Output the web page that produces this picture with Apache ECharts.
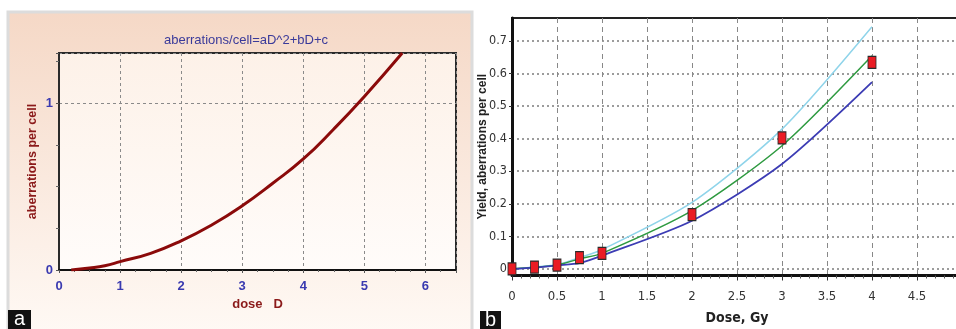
<!DOCTYPE html>
<html>
<head>
<meta charset="utf-8">
<script src="https://cdn.jsdelivr.net/npm/echarts@6/dist/echarts.min.js"></script>
<style>
html,body{margin:0;padding:0;background:#fff;}
#chart{width:956px;height:329px;}
</style>
</head>
<body>
<div id="chart"></div>
<script>
// ---- Panel a data ----
const aDose  = [0.2, 0.5, 0.75, 1, 1.5, 2, 2.5, 3, 3.5, 4, 4.5, 5, 5.62];
const aYield = [0, 0.012, 0.026, 0.05, 0.1, 0.175, 0.27, 0.385, 0.52, 0.665, 0.845, 1.04, 1.3];
const aTitle = 'aberrations/cell=aD^2+bD+c';

// ---- Panel b data ----
const bDose     = [0, 0.25, 0.5, 0.75, 1, 2, 3, 4];
const bUpper    = [0, 0.006, 0.013, 0.035, 0.059, 0.204, 0.429, 0.743];
const bFit      = [0, 0.005, 0.012, 0.031, 0.048, 0.179, 0.378, 0.654];
const bLower    = [0, 0.004, 0.011, 0.018, 0.041, 0.148, 0.322, 0.573];
const bObserved = [0, 0.006, 0.012, 0.035, 0.048, 0.167, 0.402, 0.634];
const bYTicks   = [0, 0.1, 0.2, 0.3, 0.4, 0.5, 0.6, 0.7];

const pairs = (xs, ys) => xs.map((x, i) => [x, ys[i]]);

const narrow = "'DejaVu Sans Condensed','Liberation Sans Narrow','Arial Narrow','Liberation Sans',sans-serif";
const chart = echarts.init(document.getElementById('chart'), null, {renderer: 'canvas'});

const option = {
  backgroundColor: '#ffffff',
  animation: false,
  graphic: [
    {type: 'rect', z: -10, shape: {x: 8, y: 12, width: 464, height: 330},
     style: {fill: new echarts.graphic.LinearGradient(0, 0, 0, 1, [
        {offset: 0, color: '#f5d8c6'}, {offset: 1, color: '#fffaf6'}]),
        stroke: '#dcdcdc', lineWidth: 3}},
    {type: 'rect', z: 100, shape: {x: 8, y: 310, width: 23, height: 19}, style: {fill: '#111'}},
    {type: 'text', z: 101, x: 19.5, y: 319, style: {text: 'a', fill: '#fff', font: '20px Arial, sans-serif', align: 'center', verticalAlign: 'middle'}},
    {type: 'rect', z: 100, shape: {x: 480, y: 311, width: 21, height: 18}, style: {fill: '#111'}},
    {type: 'text', z: 101, x: 490.5, y: 320, style: {text: 'b', fill: '#fff', font: '20px Arial, sans-serif', align: 'center', verticalAlign: 'middle'}}
  ],
  title: {
    text: aTitle, left: 241, top: 29, textAlign: 'center',
    textStyle: {color: '#3a3a9a', fontSize: 13, fontWeight: 'normal', fontFamily: 'Arial, sans-serif'}
  },
  grid: [
    {left: 59, top: 53, width: 397, height: 217, show: true, outerBoundsMode: 'none',
     backgroundColor: new echarts.graphic.LinearGradient(0, 0, 0, 1, [
        {offset: 0, color: '#fdf1e8'}, {offset: 1, color: '#fffcfa'}]),
     borderColor: '#2a2a2a', borderWidth: 2},
    {left: 512, top: 18, width: 450, height: 257.5, show: true, outerBoundsMode: 'none',
     backgroundColor: '#ffffff', borderColor: '#222', borderWidth: 2}
  ],
  xAxis: [
    {gridIndex: 0, type: 'value', min: 0, max: 6.5, interval: 1,
     name: 'dose   D', nameLocation: 'middle', nameGap: 28, nameMoveOverlap: false,
     nameTextStyle: {color: '#8b1a1a', fontWeight: 'bold', fontSize: 13, fontFamily: 'Arial, sans-serif'},
     axisLine: {show: true, lineStyle: {color: '#111', width: 2}},
     axisTick: {show: true, length: 3, lineStyle: {color: '#555'}},
     minorTick: {show: true, splitNumber: 4, length: 2, lineStyle: {color: '#666'}},
     axisLabel: {showMaxLabel: false, color: '#3a3ab0', fontSize: 13, fontWeight: 'bold', margin: 10, fontFamily: 'Arial, sans-serif'},
     splitLine: {show: true, lineStyle: {color: '#8a8a8a', type: [3, 3], width: 1}}},
    {gridIndex: 1, type: 'value', min: 0, max: 5, interval: 0.5,
     name: 'Dose, Gy', nameLocation: 'middle', nameGap: 36, nameMoveOverlap: false,
     nameTextStyle: {color: '#222', fontWeight: 'bold', fontSize: 14, fontFamily: narrow},
     axisLine: {show: true, onZero: false, lineStyle: {color: '#111', width: 3}},
     axisTick: {show: true, length: 5, lineStyle: {color: '#333'}},
     minorTick: {show: true, splitNumber: 5, length: 3, lineStyle: {color: '#555'}},
     axisLabel: {color: '#333', fontSize: 13, margin: 15, fontFamily: narrow},
     splitLine: {show: true, lineStyle: {color: '#888', type: [5, 4], width: 1}}}
  ],
  yAxis: [
    {gridIndex: 0, type: 'value', min: 0, max: 1.3, interval: 1,
     name: 'aberrations per cell', nameLocation: 'middle', nameGap: 20, nameMoveOverlap: false,
     nameTextStyle: {color: '#8b1a1a', fontWeight: 'bold', fontSize: 12.5, fontFamily: 'Arial, sans-serif'},
     axisLine: {show: true, lineStyle: {color: '#2a2a2a', width: 2}},
     axisTick: {show: true, length: 3, lineStyle: {color: '#555'}},
     minorTick: {show: true, splitNumber: 4, length: 3, lineStyle: {color: '#666'}},
     axisLabel: {showMaxLabel: false, color: '#3a3ab0', fontSize: 13, fontWeight: 'bold', margin: 6, fontFamily: 'Arial, sans-serif'},
     splitLine: {show: true, lineStyle: {color: '#8a8a8a', type: [3, 3], width: 1}}},
    {gridIndex: 1, type: 'value', min: -0.02, max: 0.77,
     name: 'Yield, aberrations per cell', nameLocation: 'middle', nameGap: 23, nameMoveOverlap: false,
     nameTextStyle: {color: '#222', fontWeight: 'bold', fontSize: 12, fontFamily: 'Arial, sans-serif'},
     axisLine: {show: true, onZero: false, lineStyle: {color: '#111', width: 3}},
     axisTick: {show: true, length: 3, customValues: bYTicks, lineStyle: {color: '#333'}},
     axisLabel: {customValues: bYTicks, color: '#333', fontSize: 12.5, margin: 5, fontFamily: narrow},
     splitLine: {show: true, lineStyle: {color: '#7c7c7c', type: [2, 3], width: 1.5}}}
  ],
  series: [
    {type: 'line', xAxisIndex: 0, yAxisIndex: 0, data: pairs(aDose, aYield), smooth: true,
     showSymbol: false, lineStyle: {color: '#8b0a0a', width: 3}, clip: true},
    {type: 'line', xAxisIndex: 1, yAxisIndex: 1, data: pairs(bDose, bUpper), smooth: 0.25,
     showSymbol: false, lineStyle: {color: '#8fd4ea', width: 1.5}},
    {type: 'line', xAxisIndex: 1, yAxisIndex: 1, data: pairs(bDose, bFit), smooth: 0.25,
     showSymbol: false, lineStyle: {color: '#2e9a40', width: 1.5}},
    {type: 'line', xAxisIndex: 1, yAxisIndex: 1, data: pairs(bDose, bLower), smooth: 0.25,
     showSymbol: false, lineStyle: {color: '#3c3cb4', width: 1.8}},
    {type: 'scatter', xAxisIndex: 1, yAxisIndex: 1, data: pairs(bDose, bObserved), z: 5,
     symbol: 'rect', symbolSize: [8, 12],
     itemStyle: {color: '#ea1c24', borderColor: '#2a2a2a', borderWidth: 1, opacity: 1}}
  ]
};
chart.setOption(option);
</script>
</body>
</html>
